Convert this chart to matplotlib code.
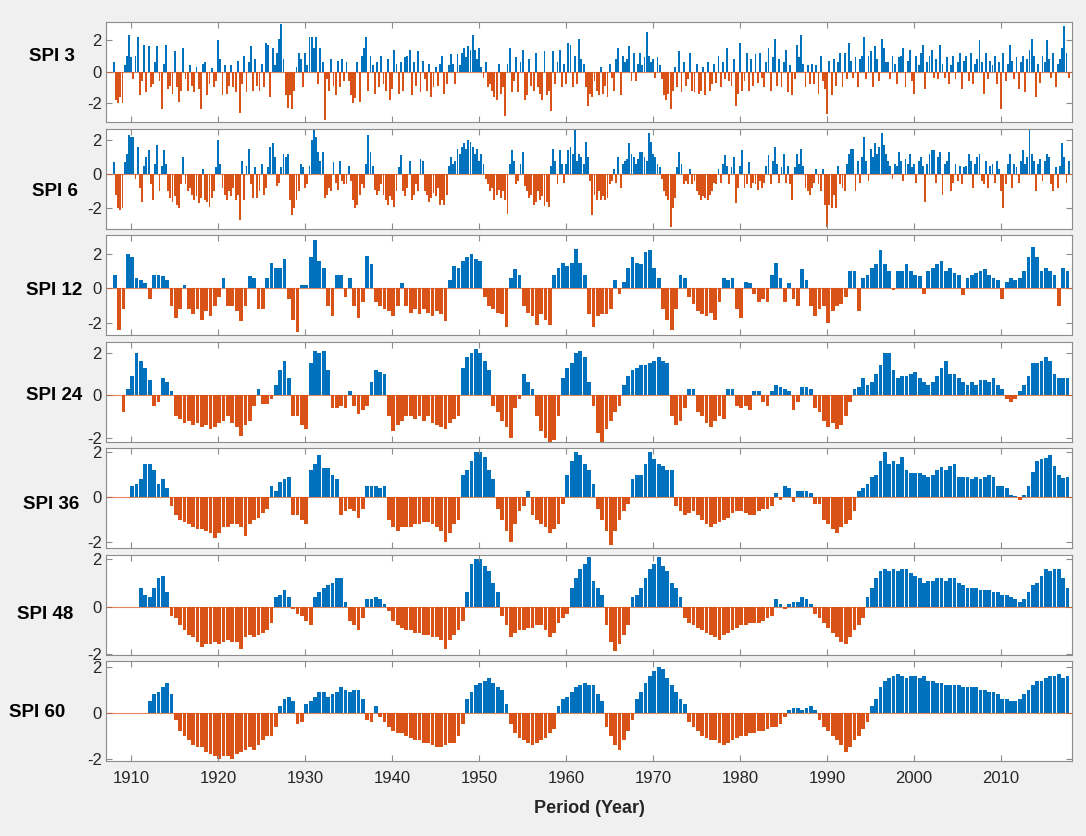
import numpy as np
import matplotlib
matplotlib.use("Agg")
import matplotlib.pyplot as plt
from matplotlib.transforms import blended_transform_factory

plt.rcParams["font.family"] = ["Liberation Sans", "DejaVu Sans"]
plt.rcParams["axes.unicode_minus"] = False

# SPI values.
# SPI 3 / SPI 6: one value per quarter; the others: one value per half year.
spi3 = [
    0.6, -1.8, -2.0, -1.6, -2.0, 0.4, 1.0, 2.3, 0.9, -0.5, 1.0, 2.2,
    -1.5, -0.6, 1.7, -1.3, 1.6, -1.0, -0.8, 0.6, 1.6, -0.6, -2.4, 0.5, 1.7, -1.1, -0.9, -1.4, 1.3, -1.0, -1.9, -1.2,
    1.5, -0.5, -1.2, 0.4, -0.9, -1.3, 0.3, -1.1, -2.4, 0.5, 0.6, -1.5, -0.8, 0.2, -1.0, -0.6, 2.0, 0.8, -1.5, 0.4,
    -1.4, -0.9, 0.4, -1.0, -1.3, 0.7, -2.6, -0.8, 1.0, -1.3, 0.6, 1.6, -1.2, 0.8, -0.9, -1.2, 0.5, -1.0, 1.8, 1.7,
    -1.6, 1.5, 0.4, 1.2, 2.1, 3.0, 0.8, -1.5, -2.3, -1.5, -2.4, -1.2, 0.3, 1.2, 0.8, -1.0, 1.2, 0.4, 2.2, 2.2,
    1.5, 2.2, -0.8, 1.5, 0.6, -3.1, -0.5, -1.2, 0.8, -0.9, -1.5, 0.7, -1.0, 0.8, -0.6, 0.6, -0.6, -1.5, -2.0, -1.7,
    0.6, -1.9, 1.0, 1.5, 2.2, -1.2, 1.0, 0.4, -1.4, 0.6, -1.0, 1.0, -0.8, -1.2, 0.8, -1.8, -1.1, 1.4, 0.5, -1.4,
    0.6, -1.2, 0.9, 1.0, 1.4, -1.5, 0.6, -0.9, 1.3, -1.3, 0.7, -0.5, -1.2, 0.5, -1.6, -1.0, 0.3, -0.9, 0.5, 1.0,
    -1.4, -0.8, 0.4, 1.1, 0.5, -0.8, 1.1, 0.4, 1.2, 1.5, 0.9, 1.6, 1.4, 2.3, 1.4, 0.8, 1.5, 0.3, -0.4, 0.6,
    -1.0, -0.8, -1.2, -1.6, -1.8, 0.5, -1.4, -1.0, -2.8, 0.5, 1.5, -1.3, -0.6, 0.9, -1.3, 0.6, 1.4, -1.8, -1.5, 0.8,
    -0.9, -1.2, 1.2, -1.0, -1.4, -1.8, 1.3, -1.5, -1.2, -2.5, 1.3, -0.8, 0.6, 1.4, -1.0, 0.5, -0.8, 1.8, 1.7, -1.0,
    1.0, -0.8, 2.1, 0.8, 0.5, -1.0, -2.2, -1.4, -1.6, -0.6, -1.2, -1.5, 0.3, -1.4, -0.9, -1.6, 0.5, -0.4, -1.2, 0.8,
    1.5, -1.5, 1.0, 0.6, 0.8, 1.6, -0.6, 1.2, -0.6, 0.5, 1.2, 0.4, 0.9, 2.5, 1.0, 0.6, 0.8, -0.4, 0.9, 0.4,
    -0.5, -1.5, -1.8, -1.4, -2.4, -1.2, 0.3, -1.0, 1.3, -1.3, 0.6, -0.9, -0.5, 1.2, -1.2, -1.3, 0.5, -1.4, -1.2, 0.3,
    -1.5, 0.6, -1.2, -0.8, 0.5, -0.7, 1.0, -1.0, 0.6, -0.5, 1.5, -0.6, -0.9, 0.8, -2.2, -1.4, 1.8, -1.2, -0.6, 1.2,
    -1.2, 0.8, -0.9, 1.1, -0.7, 1.2, -0.4, -1.0, 0.6, 1.5, -1.2, 0.9, 2.1, -0.9, 0.8, -1.0, 0.6, 1.4, -1.3, 0.4,
    -1.5, -0.5, 1.7, 0.9, 2.3, 0.5, -1.0, 0.4, -0.8, 0.5, -0.8, 0.4, -1.4, 1.0, -0.6, -1.1, -2.7, 0.7, -1.5, 0.8,
    -0.9, 0.6, 1.2, -1.0, 1.2, -0.5, 1.8, 0.7, -0.4, 0.9, -1.0, 0.8, 1.0, 2.2, -0.5, 1.0, 1.3, -1.0, 1.6, 0.8,
    -0.6, 2.1, 1.5, 0.6, 0.6, -0.5, 1.0, 0.5, -0.8, 0.9, 1.0, 1.5, -1.0, 0.7, 1.4, -0.6, -1.4, 1.0, 0.4, 1.2,
    1.7, -1.1, 0.6, 1.0, 1.4, -0.4, 0.8, -0.5, 1.7, 0.5, -0.4, 0.9, -0.8, 0.4, 1.0, -0.5, 0.6, 1.2, -1.1, 0.7,
    1.0, -0.6, 1.2, -0.8, 0.5, 0.8, 2.0, 0.6, -1.4, 1.2, -0.5, 0.7, 0.4, 1.0, -0.8, 0.6, -2.4, 1.2, -0.6, 0.5,
    1.7, 0.7, -0.5, 0.9, -1.1, 0.6, 1.0, -1.3, 0.8, 1.4, 2.1, 1.0, -1.6, 0.5, -0.7, 1.0, 0.6, 2.0, 0.8, -0.4,
    1.2, -1.0, 0.5, 0.8, 1.5, 2.9, 1.2, -0.4,
]

spi6 = [
    0.7, -1.2, -2.0, -2.1, -2.0, 0.7, 1.2, 2.3, 2.2, 2.2, -0.3, 1.6,
    -0.8, -1.6, 0.5, 1.0, 1.4, -0.6, -1.5, 0.6, 1.7, -1.0, 0.5, 1.4, 0.6, -1.0, -1.4, -1.6, -1.3, -1.8, -2.0, -0.6,
    1.0, -0.6, -1.0, -0.8, -1.2, -1.5, -1.3, -1.7, -1.4, 0.3, -1.5, -1.6, -1.9, -1.4, -1.0, 0.4, 2.0, 0.6, -0.8, -1.2,
    -1.5, -1.0, -1.3, -0.8, -1.5, -1.2, -2.7, 0.8, -1.5, 0.5, 1.5, -0.6, -1.4, 0.4, -1.4, -1.0, 0.6, -1.2, -0.8, 0.4,
    1.6, 1.8, 1.0, -0.7, -0.5, 0.4, 1.2, 1.0, 1.2, -1.5, -2.4, -2.0, -1.5, -1.0, 0.6, 0.4, -0.8, -0.6, 0.5, 2.0,
    2.6, 2.2, 1.3, 0.8, 1.3, -1.4, -1.2, -0.8, -1.0, 0.7, -0.5, -0.9, 0.8, -0.4, -0.6, -0.6, 0.5, -0.4, -1.5, -2.0,
    -1.8, -1.2, -0.6, -0.8, 0.6, 2.3, 1.3, 0.5, -0.9, -1.2, -1.0, -0.6, -1.2, -1.5, -1.8, -1.3, -1.5, -1.9, -1.0, 0.4,
    1.1, -1.0, -1.3, -0.8, 0.8, -1.5, -1.2, -0.6, -1.0, 0.9, 0.8, -1.0, -1.2, -1.6, -1.4, -1.1, -1.3, -0.8, -1.8, -1.5,
    -1.8, -1.2, 0.5, 1.0, 0.6, 0.8, 1.5, 1.2, 1.6, 1.8, 1.5, 2.0, 1.9, 1.6, 1.2, 1.5, 0.8, 1.2, 0.6, -0.3,
    -0.6, -1.0, -0.8, -1.5, -1.2, -0.9, -1.4, -1.0, -1.5, -2.3, 0.6, 1.4, 0.8, -0.6, -0.4, 0.6, 1.3, -0.7, -1.0, -1.4,
    -1.2, -1.8, -1.6, -1.0, -1.5, -1.3, -1.85, -1.6, -1.9, 0.5, 1.5, 0.8, -0.6, 1.4, 0.6, -0.5, 0.6, 1.4, 1.6, 1.2,
    2.6, 0.8, 1.2, 1.0, 0.6, 1.9, 1.0, -0.4, -2.4, -1.2, -1.5, -1.0, -1.5, -1.3, -1.5, -1.4, -0.6, -0.4, 0.3, -0.5,
    1.0, -0.8, 0.6, 0.8, 0.9, 1.8, 1.2, 1.0, 0.6, 0.9, 1.3, 1.3, 1.0, 0.8, 2.4, 1.9, 1.2, 1.0, 0.6, 0.4,
    -0.3, -1.0, -1.3, -1.5, -3.1, -2.0, -1.4, 0.4, 1.3, 0.6, -0.6, -0.4, -0.6, 0.3, -0.6, -0.4, -1.0, -1.2, -1.5, -1.3,
    -1.4, -1.5, -1.2, -1.0, -0.5, -0.6, 0.3, -0.5, 0.6, 1.1, 0.5, -0.6, 0.4, 1.0, -1.7, -0.8, 0.5, 1.4, -0.8, -0.6,
    0.7, -0.8, -0.5, -0.6, -0.9, -0.4, -0.8, -0.5, 0.5, 1.1, -0.6, 0.8, 1.6, 0.6, -0.5, 0.4, 1.2, -0.5, 0.5, -0.6,
    -1.5, 0.4, 1.2, 0.6, 1.5, 0.5, -0.8, -1.0, -1.2, -0.8, -0.5, 0.3, -0.6, -1.0, 0.3, -1.8, -3.1, -1.8, -2.0, -1.2,
    -2.0, 0.5, -0.6, -0.8, -1.0, 0.6, 1.2, 1.5, 1.5, -1.0, 0.8, -0.5, 1.0, 2.2, 0.8, -0.4, 1.5, 1.0, 1.8, 1.2,
    1.6, 2.4, 1.7, 1.2, 0.8, 0.5, -0.3, 0.6, 0.5, 1.3, 0.8, -0.4, 0.9, 0.6, 1.2, 0.4, 0.6, -0.5, 0.8, 1.0,
    0.5, -1.6, 0.6, 1.2, 1.4, 1.4, -0.5, 1.0, 1.3, -1.2, 0.6, 0.8, 1.3, -1.0, -0.5, 0.6, -0.4, 0.5, -0.6, 0.4,
    0.5, 1.2, 0.8, -0.8, 0.6, 1.0, 1.2, -0.4, -0.6, 0.8, -0.8, 0.5, 0.6, -0.5, 0.8, 0.3, -1.0, -2.0, -0.6, 0.6,
    1.2, -0.8, 0.6, 0.4, -0.5, 0.8, 1.4, 0.6, 1.0, 2.6, 1.2, 0.8, -1.0, 0.6, 0.9, -0.4, 0.8, 1.2, 1.0, -0.6,
    -1.0, 0.4, -0.8, 0.5, 1.8, 1.0, -0.5, 0.8,
]

spi12 = [
    0.8, -2.4, -1.2, 2.0, 1.8, 0.6,
    0.5, 0.3, -0.6, 0.8, 0.8, 0.7, 0.5, -1.0, -1.7, -1.2, 0.2, -1.2, -1.5, -1.2, -1.8, -1.3, -1.6, -1.0, -0.5, 0.6,
    -1.0, -1.0, -1.3, -1.9, -1.0, 0.7, 0.6, -1.2, -1.2, 0.6, 1.5, 1.2, 1.2, 1.7, -0.6, -1.8, -2.5, 0.2, 0.2, 1.8,
    2.8, 1.6, 1.2, -1.0, -1.6, 0.8, 0.8, -0.5, 0.6, -1.0, -1.7, -0.8, 1.9, 1.4, -0.8, -1.0, -1.2, -1.3, -1.6, -1.0,
    0.3, -1.0, -1.4, -1.2, -1.5, -1.2, -1.4, -1.6, -1.3, -1.5, -1.9, 0.5, 1.3, 1.2, 1.6, 1.8, 2.0, 1.7, 1.6, -0.5,
    -1.0, -1.2, -1.4, -1.5, -2.2, 0.6, 1.1, 0.8, -1.0, -1.4, -1.6, -2.1, -1.5, -1.8, -2.1, 0.8, 1.2, 1.5, 1.3, 1.5,
    2.3, 1.5, 0.8, -1.5, -2.2, -1.6, -1.5, -1.5, -1.2, 0.5, -0.3, 0.4, 1.2, 1.8, 1.5, 1.4, 2.1, 2.2, 1.2, 0.6,
    -1.2, -1.8, -2.4, -1.2, 0.8, 0.6, -0.5, -0.9, -1.3, -1.5, -1.6, -1.4, -1.8, -0.8, 0.6, 0.5, 0.6, -1.2, -1.7, 0.4,
    0.3, -0.3, -0.8, -0.6, -0.8, 0.8, 1.5, 0.6, -0.8, 0.3, -0.6, -1.0, 1.1, 0.5, -1.0, -1.6, -1.2, -1.0, -2.0, -1.3,
    -1.0, -0.9, -0.5, 1.0, 1.0, -1.3, 0.6, 0.8, 1.2, 1.4, 2.2, 1.4, 1.0, -0.1, 1.0, 1.0, 1.4, 1.0, 0.8, 0.7,
    -0.3, 1.0, 1.2, 1.4, 1.6, 1.0, 1.2, 0.9, 0.8, -0.4, 0.6, 0.8, 0.9, 1.0, 1.1, 0.8, 0.6, 0.5, -0.6, 0.4,
    0.6, 0.5, 0.6, 1.0, 1.8, 2.4, 1.8, 1.0, 1.2, 1.0, 0.8, -1.0, 1.2, 1.0,
]

spi24 = [
    -0.8, 0.3, 0.9, 2.0,
    1.6, 1.3, 0.7, -0.5, -0.3, 0.8, 0.6, 0.2, -1.0, -1.1, -1.3, -1.2, -1.4, -1.3, -1.5, -1.4, -1.6, -1.5, -1.3, -1.2,
    -1.0, -1.3, -1.5, -1.9, -1.4, -1.2, -0.5, 0.3, -0.4, -0.4, -0.2, 0.5, 1.2, 1.6, 0.8, -1.0, -1.0, -1.4, -1.6, 1.5,
    2.1, 2.0, 2.1, 1.2, -0.6, -0.6, -0.5, -0.6, 0.2, -0.5, -0.9, -0.7, -0.5, 0.6, 1.2, 1.1, 1.0, -1.0, -1.7, -1.4,
    -1.2, -1.0, -1.0, -1.1, -1.0, -1.2, -1.0, -1.3, -1.4, -1.5, -1.6, -1.3, -1.1, -1.0, 1.3, 1.8, 2.0, 2.2, 2.0, 1.6,
    1.2, -0.5, -0.8, -1.2, -1.5, -2.0, -0.6, -0.2, 1.0, 0.6, 0.3, -1.0, -1.7, -2.0, -2.2, -2.1, -1.0, 0.8, 1.3, 1.5,
    2.0, 2.1, 1.8, 0.6, -0.5, -1.8, -2.2, -1.6, -1.2, -0.8, -0.5, 0.5, 0.9, 1.2, 1.3, 1.4, 1.4, 1.5, 1.6, 1.8,
    1.6, 1.5, -1.0, -1.4, -1.2, -0.6, 0.3, 0.3, -0.8, -1.0, -1.3, -1.5, -1.2, -1.0, -1.1, 0.3, 0.3, -0.5, -0.6, -0.5,
    -0.7, 0.2, 0.2, -0.3, -0.5, 0.2, 0.5, 0.4, 0.3, 0.2, -0.7, -0.3, 0.4, 0.4, 0.3, -0.6, -0.8, -1.2, -1.5, -1.3,
    -1.6, -1.4, -1.0, -0.3, 0.3, 0.4, 0.8, 0.5, 0.6, 1.0, 1.4, 2.0, 2.0, 1.2, 0.8, 0.9, 0.9, 1.0, 1.1, 0.8,
    0.6, 0.5, 0.6, 0.9, 1.3, 1.6, 1.0, 1.0, 0.8, 0.6, 0.5, 0.6, 0.5, 0.7, 0.7, 0.6, 0.8, 0.5, 0.3, -0.2,
    -0.3, -0.2, 0.2, 0.5, 0.9, 1.5, 1.5, 1.6, 1.8, 1.6, 1.0, 0.8, 0.8, 0.8,
]

spi36 = [
    0.5, 0.6,
    0.8, 1.5, 1.5, 1.2, 0.6, 0.8, 0.4, -0.4, -0.8, -1.0, -1.1, -1.2, -1.3, -1.4, -1.4, -1.5, -1.6, -1.8, -1.6, -1.3,
    -1.3, -1.2, -1.2, -1.3, -1.7, -1.2, -1.0, -0.9, -0.7, -0.5, 0.5, 0.3, 0.7, 0.8, 0.9, -0.8, -0.8, -1.0, -1.2, 1.2,
    1.5, 1.9, 1.3, 1.3, 1.0, 0.8, -0.8, -0.6, -0.5, -0.6, -0.9, -0.5, 0.5, 0.5, 0.5, 0.4, 0.5, -1.0, -1.3, -1.5,
    -1.3, -1.3, -1.3, -1.2, -1.2, -1.1, -1.1, -1.2, -1.3, -1.5, -2.0, -1.6, -1.2, -1.0, 1.0, 1.2, 1.6, 2.0, 2.0, 1.8,
    1.2, 0.8, -0.5, -1.0, -1.5, -2.0, -1.2, -0.6, -0.4, 0.3, -0.8, -1.0, -1.2, -1.3, -1.6, -1.4, -1.2, -0.3, 1.0, 1.6,
    2.0, 1.9, 1.5, 1.2, 0.6, -0.5, -1.0, -1.5, -2.1, -1.5, -1.0, -0.6, -0.3, 0.8, 1.0, 1.0, 1.5, 2.0, 1.7, 1.5,
    1.4, 1.2, 1.2, -0.4, -0.6, -0.8, -0.7, -0.6, -0.8, -1.0, -1.2, -1.3, -1.2, -1.1, -1.0, -0.9, -0.7, -0.6, -0.6, -0.7,
    -0.8, -0.8, -0.6, -0.5, -0.5, -0.4, 0.2, -0.1, 0.5, 0.4, -0.2, 0.3, 0.3, 0.3, 0.2, -0.3, -0.3, -1.0, -1.2, -1.4,
    -1.6, -1.3, -1.2, -1.0, -0.6, 0.3, 0.4, 0.6, 0.9, 1.0, 1.6, 2.0, 1.5, 1.6, 1.5, 1.8, 1.2, 1.1, 1.1, 1.1,
    1.0, 0.9, 1.0, 1.2, 1.35, 1.2, 1.4, 1.5, 0.9, 0.9, 0.9, 0.8, 0.9, 0.8, 0.9, 1.0, 0.9, 0.5, 0.5, 0.4,
    0.1, 0.05, -0.1, 0.1, 0.5, 1.15, 1.6, 1.7, 1.75, 1.9, 1.4, 1.0, 0.85, 0.9,
]

spi48 = [
    0.8, 0.5, 0.4, 0.8, 1.2, 1.3, 0.6, -0.4, -0.5, -0.8, -1.0, -1.2, -1.3, -1.5, -1.7, -1.6, -1.6, -1.5, -1.6, -1.5,
    -1.4, -1.5, -1.5, -1.8, -1.3, -1.2, -1.3, -1.2, -1.1, -1.0, -0.7, 0.4, 0.5, 0.7, 0.4, -0.1, -0.3, -0.4, -0.6, -0.8,
    0.4, 0.6, 0.8, 0.9, 1.0, 1.2, 1.2, 0.2, -0.6, -0.8, -1.0, -0.5, 0.3, 0.3, 0.4, 0.3, 0.1, -0.2, -0.6, -0.8,
    -0.9, -1.0, -1.0, -1.1, -1.1, -1.2, -1.2, -1.3, -1.3, -1.4, -1.8, -1.4, -1.2, -1.0, -0.6, 0.6, 1.8, 2.0, 2.0, 1.7,
    1.5, 1.0, 0.6, -0.4, -0.8, -1.3, -1.1, -1.0, -1.0, -0.9, -0.9, -0.8, -0.8, -1.0, -1.3, -1.1, -0.7, -0.5, -0.3, 0.8,
    1.2, 1.6, 1.8, 2.1, 1.1, 0.8, 0.5, -0.8, -1.5, -1.9, -1.6, -1.2, -0.8, 0.4, 0.5, 0.8, 1.2, 1.6, 1.8, 2.1,
    1.7, 1.5, 1.0, 0.8, 0.4, -0.5, -0.7, -0.8, -0.9, -1.0, -1.1, -1.2, -1.3, -1.4, -1.2, -1.1, -1.0, -0.9, -0.8, -0.8,
    -0.7, -0.7, -0.7, -0.6, -0.5, -0.4, 0.3, 0.1, -0.1, 0.1, 0.2, 0.2, 0.4, 0.3, 0.1, -0.3, -0.5, -0.7, -0.9, -1.1,
    -1.3, -1.5, -1.6, -1.3, -1.0, -0.8, -0.5, 0.4, 0.8, 1.2, 1.5, 1.6, 1.5, 1.6, 1.5, 1.6, 1.6, 1.4, 1.3, 1.2,
    1.0, 1.1, 1.1, 1.2, 1.2, 1.1, 1.2, 1.2, 1.0, 0.9, 0.8, 0.8, 0.8, 0.7, 0.7, 0.7, 0.6, 0.6, 0.5, 0.5,
    0.4, 0.3, 0.2, 0.3, 0.6, 0.9, 1.0, 1.3, 1.6, 1.5, 1.6, 1.6, 1.2, 0.8,
]

spi60 = [
    0.5, 0.8, 0.9, 1.1, 1.3, 0.8, -0.3, -0.8, -1.0, -1.2, -1.4, -1.5, -1.5, -1.7, -1.8, -1.9, -2.0, -1.9,
    -1.9, -2.0, -1.8, -1.7, -1.6, -1.5, -1.6, -1.4, -1.2, -1.0, -1.0, -0.6, 0.3, 0.6, 0.7, 0.5, -0.5, -0.4, 0.4, 0.5,
    0.7, 0.9, 0.9, 0.7, 0.8, 0.9, 1.1, 1.0, 0.9, 1.0, 1.0, 0.6, -0.3, -0.4, 0.3, -0.2, -0.4, -0.6, -0.8, -0.9,
    -0.9, -1.0, -1.1, -1.2, -1.2, -1.3, -1.3, -1.4, -1.5, -1.5, -1.4, -1.3, -1.3, -1.0, -0.5, 0.6, 0.9, 1.2, 1.3, 1.4,
    1.5, 1.3, 1.1, 1.0, 0.4, -0.5, -0.9, -1.1, -1.2, -1.3, -1.4, -1.3, -1.2, -1.1, -0.9, -0.7, 0.3, 0.6, 0.7, 0.9,
    1.1, 1.2, 1.3, 1.2, 1.2, 0.8, 0.5, -0.6, -1.0, -1.4, -1.6, -1.2, -0.8, -0.3, 0.6, 0.9, 1.3, 1.6, 1.8, 2.0,
    1.9, 1.5, 1.2, 0.9, 0.6, 0.4, -0.4, -0.6, -0.8, -1.0, -1.1, -1.2, -1.2, -1.3, -1.4, -1.3, -1.2, -1.1, -1.0, -1.0,
    -0.9, -0.9, -0.8, -0.8, -0.7, -0.6, -0.6, -0.5, -0.2, 0.1, 0.2, 0.2, 0.1, 0.2, 0.3, 0.1, -0.3, -0.6, -0.8, -1.0,
    -1.2, -1.4, -1.7, -1.5, -1.2, -1.0, -0.7, -0.4, 0.3, 0.6, 1.1, 1.4, 1.5, 1.6, 1.7, 1.6, 1.5, 1.6, 1.6, 1.5,
    1.6, 1.4, 1.4, 1.3, 1.3, 1.2, 1.2, 1.2, 1.2, 1.1, 1.1, 1.1, 1.1, 1.0, 1.0, 0.9, 0.9, 0.8, 0.6, 0.6,
    0.5, 0.5, 0.6, 0.8, 1.0, 1.2, 1.4, 1.4, 1.5, 1.6, 1.6, 1.7, 1.5, 1.6,
]

names = ["SPI 3", "SPI 6", "SPI 12", "SPI 24", "SPI 36", "SPI 48", "SPI 60"]
series = [spi3, spi6, spi12, spi24, spi36, spi48, spi60]
starts = [1907.9, 1907.9, 1907.9, 1908.9, 1909.9, 1910.9, 1911.9]
steps = [0.25, 0.25, 0.5, 0.5, 0.5, 0.5, 0.5]

BLUE = "#0072BD"
ORANGE = "#D95319"
GRID = "#8c8c8c"

# axis limits and label placement per panel
ylims = [(-3.2, 3.15), (-3.17, 2.67), (-2.69, 3.09), (-2.18, 2.53),
         (-2.25, 2.2), (-2.03, 2.2), (-2.1, 2.25)]
label_pos = [(75, 0.95), (78, -1.0), (82, -0.1), (82, 0.0),
             (79, -0.3), (73, -0.35), (65, 0.0)]

W, H = 1086, 836
fig = plt.figure(figsize=(W / 100, H / 100), dpi=100, facecolor="#f0f0f0")

left_px, right_px = 106, 1072
for i, (name, vals, t0, dt) in enumerate(zip(names, series, starts, steps)):
    top_px = 22 + 106.5 * i
    ax = fig.add_axes([left_px / W, 1 - (top_px + 100) / H,
                       (right_px - left_px) / W, 100 / H])
    v = np.array(vals)
    t = t0 + dt * np.arange(len(v)) + dt / 2
    cols = np.where(v >= 0, BLUE, ORANGE)
    ax.bar(t, v, width=dt * 0.86, color=cols, linewidth=0)
    ax.axhline(0, color=ORANGE, lw=0.8, alpha=0.7)

    ax.set_xlim(1907.13, 2018.16)
    ax.set_ylim(*ylims[i])
    ax.set_xticks(range(1910, 2011, 10))
    ax.set_yticks([-2, 0, 2])
    ax.tick_params(direction="in", top=True, right=True, length=4,
                   color=GRID, labelsize=12, labelcolor="#262626", pad=3)
    ax.tick_params(axis="x", pad=7)
    if i < len(names) - 1:
        ax.tick_params(labelbottom=False)
    for s in ax.spines.values():
        s.set_color(GRID)
        s.set_linewidth(0.8)

    lx, ly = label_pos[i]
    tr = blended_transform_factory(ax.transAxes, ax.transData)
    ax.text((lx - left_px) / (right_px - left_px), ly, name, transform=tr,
            ha="right", va="center", fontsize=13.5, fontweight="bold")

    if i == len(names) - 1:
        ax.set_xlabel("Period (Year)", fontsize=13, fontweight="bold",
                      color="#262626", labelpad=10)

fig.savefig("out.png", dpi=100, facecolor=fig.get_facecolor())
